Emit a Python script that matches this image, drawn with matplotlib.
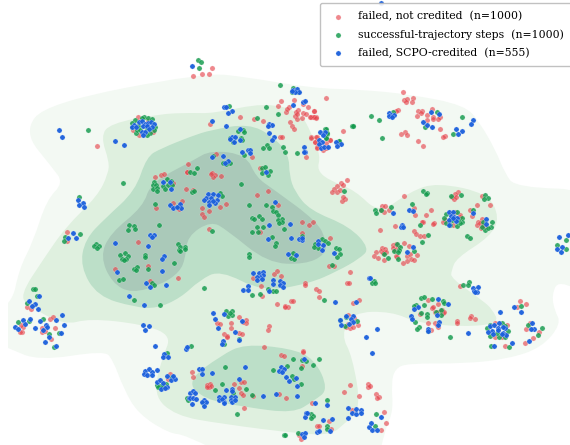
import numpy as np
from matplotlib import pyplot as plt
from matplotlib.path import Path
from matplotlib.patches import PathPatch, Rectangle

failed_not_credited = [
    (403,92),(404,100),(407,99),(406,102),(413,98),(412,102),(398,110),(396,111),(418,111),(422,111),(421,113),(417,116),
    (427,115),(427,120),(433,117),(433,119),(440,117),(438,119),(432,109),(440,129),(445,136),(443,137),(343,131),(326,98),
    (405,132),(401,134),(407,135),(418,141),(423,146),(314,111),(316,117),(313,117),(311,117),(330,140),(315,142),(311,137),
    (317,137),(326,143),(317,147),(97,146),(138,117),(133,130),(139,135),(153,132),(148,121),
    (212,68),(209,74),(202,74),(193,76),(281,101),(278,106),(294,100),(308,107),(314,111),(240,117),(254,119),(263,121),
    (210,124),(290,122),(292,126),(294,129),(286,112),(289,107),(287,109),(298,110),(296,112),(295,116),(297,119),(302,118),
    (303,113),(306,114),(310,117),(314,117),(316,118),(297,114),(303,104),(280,137),(282,137),(252,157),(216,154),(306,157),
    (311,138),(316,137),(315,142),(330,140),(317,148),(323,150),(326,148),(188,164),(187,172),(212,173),(215,175),(213,177),
    (211,174),(221,176),(260,168),
    (155,177),(161,175),(164,174),(173,183),(186,189),(182,201),(173,203),(178,208),(156,208),(67,232),(67,241),(138,242),
    (115,269),(148,266),(178,278),(150,281),(27,307),(31,309),(179,209),(187,172),
    (50,319),(53,317),(42,328),(42,332),(45,331),(55,328),(51,339),(23,327),(21,325),(22,332),(20,332),(170,374),(168,379),(165,388),
    (239,317),(246,320),(246,323),(243,322),(217,323),(220,324),(231,323),(231,328),(224,334),(227,336),(227,337),(239,333),
    (242,334),(269,326),(268,330),(264,347),(281,355),(284,356),(303,351),(303,352),(192,372),(193,377),(207,385),(210,384),
    (209,387),(211,386),(207,387),(234,384),(241,382),(244,382),(239,388),(241,393),(243,395),(253,396),(279,394),(286,398),
    (244,408),(312,403),(302,366),(350,385),(344,392),(359,396),(368,384),(368,387),(370,386),(376,394),(379,397),(377,398),
    (329,421),(317,426),(319,426),(331,429),(299,435),(301,439),(384,412),(386,423),(381,430),(352,410),
    (348,315),(354,318),(358,325),(348,324),(350,328),(353,327),(346,327),
    (347,180),(341,183),(343,185),(337,186),(334,189),(332,192),(337,192),(340,190),(345,199),(342,201),(343,197),(268,191),
    (257,195),(278,205),(193,190),(226,204),(220,207),(209,211),(202,208),(202,214),(204,217),(209,229),(302,222),(309,225),
    (313,222),(260,232),(302,233),(330,238),(329,266),(334,266),(350,272),(277,271),(274,274),(281,276),(253,278),(261,286),
    (305,283),(305,285),(316,289),(319,291),(319,297),(347,283),(349,283),(291,301),(293,301),(277,304),(285,306),(288,307),
    (285,307),(353,303),(359,300),(262,296),
    (404,196),(382,206),(385,206),(381,210),(389,210),(384,212),(414,208),(415,215),(431,210),(426,215),(423,222),(422,222),
    (434,223),(433,224),(395,226),(380,230),(414,231),(416,234),(420,236),(424,236),(404,243),(409,246),(417,255),(407,256),
    (410,254),(411,259),(414,260),(407,261),(403,263),(376,252),(374,256),(378,258),(384,260),(382,248),(385,249),(381,251),
    (384,252),(383,253),(386,252),(393,245),(396,244),(393,248),(395,250),(397,257),(396,256),(398,247),(458,192),(455,194),
    (452,197),(454,199),(456,197),(482,196),(490,205),(477,205),(470,210),(472,216),(460,215),(451,213),(455,212),(445,220),
    (453,225),(460,217),(443,222),(478,222),(482,219),(477,225),(481,228),(485,227),(480,223),(483,225),(460,286),
    (428,300),(438,304),(432,308),(433,307),(435,312),(438,312),(442,310),(443,313),(444,312),(428,323),(435,323),(437,325),
    (438,327),(428,330),(431,330),(457,321),(457,323),(471,316),(470,318),(475,319),(420,314),(520,301),(526,304),(517,307),
    (505,346),(525,343),(533,338),(539,332),(530,323),(526,329),(495,323),(507,325),(505,335),(495,337),(502,337),
]

successful_steps = [
    (371,116),(379,120),(353,126),(352,126),(382,138),(393,112),(437,112),(425,127),(462,117),(453,134),(325,129),(327,134),
    (326,138),(339,141),(88,130),
    (135,120),(144,117),(148,118),(152,119),(132,123),(155,127),(154,130),(150,133),(147,135),(136,133),(132,127),(138,126),
    (142,118),(137,130),(140,130),(147,128),
    (198,60),(201,62),(199,68),(229,106),(280,85),(266,107),(278,114),(257,118),(243,130),(244,132),(238,131),(230,138),
    (241,138),(233,142),(242,140),(213,156),(244,155),(223,163),(230,163),(226,164),(190,172),(197,168),(194,173),(267,145),
    (269,148),(263,148),(283,147),(285,152),(297,153),(326,129),(327,133),(326,138),(339,141),(353,126),(262,168),(265,167),
    (270,171),(262,173),(268,175),(293,88),(298,92),(292,92),
    (123,183),(79,197),(80,234),(65,237),(64,241),(154,182),(153,185),(156,185),(153,189),(157,188),(157,191),(167,179),
    (171,181),(163,186),(168,185),(172,185),(165,189),(155,204),(178,207),(129,225),(134,226),(128,230),(135,229),(159,225),
    (178,244),(180,247),(185,247),(179,250),(185,249),(180,251),(96,244),(94,246),(99,246),(97,248),(120,255),(125,253),
    (128,256),(122,259),(126,259),(124,260),(145,255),(145,257),(174,263),(134,269),(137,267),(136,270),(148,269),(119,280),
    (123,279),(152,283),(154,285),(134,300),(160,305),(33,289),(35,289),(27,303),(37,296),
    (18,322),(29,321),(43,319),(49,334),(59,333),(54,347),(167,353),(157,385),(160,386),(166,384),(162,386),(158,387),(172,377),
    (226,311),(232,311),(228,316),(232,315),(230,313),(239,339),(224,344),(191,346),(225,367),(222,384),(215,390),(246,389),
    (252,395),(187,398),(188,400),(232,397),(233,393),(203,403),(273,370),(287,366),(293,359),(301,368),(313,365),(319,359),
    (302,360),(306,361),(292,376),(294,379),(301,384),(327,400),(311,414),(313,416),(311,418),(237,414),(284,435),(285,435),
    (298,433),(327,426),(327,429),(346,317),(357,321),(345,326),(340,320),(376,414),(375,426),
    (220,193),(222,196),(192,192),(194,191),(241,184),(344,191),(249,205),(266,205),(272,207),(273,211),(276,212),(278,215),
    (259,216),(252,218),(254,219),(262,219),(282,219),(278,220),(282,222),(279,223),(257,227),(263,227),(252,232),(258,232),
    (284,229),(272,237),(302,236),(212,231),(276,243),(275,246),(322,239),(325,241),(328,243),(315,244),(318,248),(314,247),
    (249,254),(249,257),(293,253),(291,258),(294,259),(336,248),(339,249),(340,254),(337,257),(332,265),(204,288),(252,295),
    (260,294),(268,289),(273,291),(276,291),(324,300),
    (423,191),(427,193),(426,194),(451,196),(461,195),(485,195),(488,198),(484,199),(375,210),(376,213),(381,210),(391,207),
    (412,204),(420,225),(428,235),(422,242),(467,236),(470,238),(397,244),(400,247),(399,250),(394,251),(398,252),(414,251),
    (388,258),(398,259),(384,254),(473,210),(446,214),(457,212),(444,218),(462,218),(446,223),(462,222),(450,225),(457,226),
    (460,223),(452,220),(458,220),(483,222),(492,222),(491,227),(485,230),(488,228),(482,227),(566,240),(557,245),(566,249),
    (374,281),(372,283),(375,283),(469,282),(463,285),(468,285),
    (421,298),(424,297),(432,299),(443,301),(444,303),(416,305),(414,306),(424,305),(441,310),(436,312),(441,315),(427,314),
    (427,317),(421,313),(415,322),(419,327),(417,329),(428,331),(450,337),(521,306),(542,328),(538,335),(528,325),(491,346),
    (509,347),(490,325),(502,323),(505,326),(508,331),(505,337),(499,337),(490,336),(487,328),(497,333),
]

failed_scpo = [
    (381,3),(389,113),(391,115),(394,115),(389,116),(392,117),(431,112),(439,114),(423,122),(427,125),(432,127),(456,129),
    (462,131),(458,134),(473,120),(471,124),(320,132),(325,132),(323,135),(319,140),(322,142),(319,144),(321,148),(324,147),
    (328,147),(336,142),(341,144),(337,146),
    (59,130),(62,137),(115,141),(124,145),(139,122),(142,121),(145,124),(148,123),(151,122),(154,124),(134,125),(132,127),
    (136,127),(143,126),(147,126),(152,127),(149,129),(142,132),(145,132),(143,135),
    (192,66),(224,107),(226,107),(232,111),(228,113),(212,121),(226,126),(240,129),(232,137),(235,137),(230,139),(240,140),
    (234,142),(242,152),(248,150),(250,150),(250,153),(223,156),(212,157),(228,161),(225,163),(269,124),(272,125),(268,126),
    (269,133),(274,137),(272,140),(304,147),(305,152),(304,152),(293,105),(303,102),(305,101),(293,90),(297,89),(299,92),
    (295,92),(292,91),(266,172),
    (78,200),(83,203),(79,205),(84,207),(73,233),(68,238),(76,238),(163,182),(170,182),(171,189),(170,205),(173,208),(180,204),
    (181,208),(177,207),(115,243),(150,235),(154,235),(152,237),(148,246),(164,256),(162,259),(117,272),(162,271),(146,283),
    (150,287),(166,285),(129,296),(144,305),(29,301),(35,304),(39,296),(32,306),(38,309),
    (23,320),(30,319),(25,324),(15,327),(18,329),(40,321),(56,320),(62,315),(64,325),(35,328),(46,325),(47,327),(43,330),(49,337),
    (61,333),(45,342),(56,346),(143,325),(149,326),(145,330),(155,346),(164,354),(163,357),(168,357),(186,349),(187,347),
    (157,370),(145,371),(149,369),(152,372),(144,374),(147,375),(152,375),(167,376),(171,380),(175,379),(173,376),(157,382),
    (160,380),(163,383),(167,387),(161,389),(165,388),(190,393),(189,398),
    (213,313),(224,314),(215,319),(218,328),(242,321),(235,332),(239,340),(223,341),(222,344),(199,369),(202,369),(202,374),
    (212,373),(245,367),(193,391),(195,393),(190,398),(193,398),(196,399),(192,404),(204,400),(206,402),(202,402),(204,406),
    (219,397),(224,397),(219,400),(224,402),(222,399),(224,403),(226,390),(232,389),(232,391),(231,397),(235,397),(231,400),
    (232,402),(235,400),(239,379),(263,396),(276,394),(297,396),(281,367),(279,371),(284,369),(282,372),(286,377),(296,378),
    (289,381),(297,386),(304,359),(315,403),(327,405),(306,413),(305,417),(307,413),(323,420),(332,419),(348,418),(302,434),
    (305,433),(304,437),(317,432),(319,431),(330,431),(348,408),(352,413),(356,414),(356,409),(361,410),(361,413),(369,427),
    (371,423),(372,430),(377,430),(381,417),(366,337),(372,353),(377,329),(346,316),(353,316),(340,320),(351,319),(353,322),
    (341,325),(349,324),
    (208,194),(213,194),(218,195),(206,198),(211,198),(217,200),(204,200),(209,202),(215,203),(209,205),(213,201),(275,202),
    (269,225),(290,224),(268,239),(291,238),(299,239),(302,240),(302,238),(318,241),(323,245),(318,244),(322,250),(334,253),
    (288,254),(296,255),(253,273),(259,273),(263,272),(263,275),(260,277),(257,277),(257,280),(262,279),(273,280),(273,284),
    (280,281),(283,283),(280,285),(283,287),(248,286),(243,290),(248,290),(269,291),(335,302),(356,302),(369,278),
    (393,213),(409,210),(413,211),(402,225),(401,227),(403,227),(473,213),(407,252),(413,247),(449,212),(453,212),(451,216),
    (454,217),(457,218),(449,220),(456,221),(449,225),(453,218),(486,219),(486,224),(559,237),(568,235),(562,247),(557,249),
    (561,252),(370,278),(473,288),(478,287),(474,291),(477,292),(475,292),
    (418,307),(414,309),(438,299),(448,304),(437,315),(411,316),(412,319),(439,322),(438,325),(428,329),(428,331),(468,333),
    (514,307),(521,312),(500,312),(494,346),(512,343),(529,341),(532,323),(534,329),(531,329),(490,326),(494,325),(499,323),
    (505,328),(498,328),(503,327),(492,331),(488,332),(493,334),(498,330),(503,333),(506,335),(502,334),
]

# density contour outlines, lowest level first
level_1 = [(190,77),(250,78),(310,87),(360,90),(410,95),(460,106),(480,124),(495,150),(505,172),(525,186),(590,203),(590,282),
           (562,284),(553,295),(555,310),(558,325),(540,346),(507,358),(463,363),(413,364),(396,370),(392,385),(392,410),(385,432),
           (360,465),(250,460),(190,438),(167,431),(140,413),(124,388),(113,362),(97,353),(43,358),(8,348),(-20,335),(-20,320),
           (8,303),(20,270),(33,240),(47,203),(60,183),(50,165),(30,133),(63,103)]
level_2 = [(190,113),(157,115),(115,124),(103,138),(108,160),(107,175),(95,197),(67,227),(43,260),(24,292),(32,307),(63,322),
           (93,320),(140,325),(167,337),(162,360),(157,393),(178,414),(225,424),(297,433),(330,433),(345,423),(358,404),(352,360),
           (344,335),(356,315),(390,313),(420,322),(463,326),(494,322),(492,310),(480,299),(455,280),(452,270),(460,257),(487,237),
           (497,217),(483,195),(440,185),(410,193),(380,208),(355,192),(332,181),(319,170),(319,155),(311,133),(297,113),(263,105),(217,112)]
level_3a = [(133,190),(147,160),(163,148),(190,137),(213,130),(247,126),(272,137),(287,155),(290,175),(296,192),(313,210),
            (347,227),(366,247),(358,259),(337,271),(307,283),(263,288),(223,274),(200,281),(180,297),(157,307),(133,306),(100,294),
            (83,267),(87,240),(107,217)]
level_3b = [(193,380),(220,357),(247,346),(287,349),(313,361),(325,387),(313,401),(290,411),(247,407),(207,398)]
level_4 = [(103,257),(113,233),(140,207),(155,183),(190,162),(213,152),(243,157),(257,176),(277,192),(313,220),(325,240),
           (323,254),(303,263),(267,259),(230,233),(210,224),(190,237),(185,257),(178,272),(160,284),(133,291),(113,281)]

level_colors = ['#f3f9f3', '#dff0df', '#bcdfc8', '#aac9b9']
point_labels = ['failed, not credited  (n=1000)', 'successful-trajectory steps  (n=1000)', 'failed, SCPO-credited  (n=555)']


def smooth_patch(pts, color):
    # closed quadratic spline through the outline points
    pts = np.array(pts, dtype=float)
    n = len(pts)
    weights = np.zeros((n, n))
    for i in range(n):
        weights[i, (i - 1) % n] += 1 / 8
        weights[i, i] += 6 / 8
        weights[i, (i + 1) % n] += 1 / 8
    ctrl = np.linalg.solve(weights, pts)
    mids = (ctrl + np.roll(ctrl, -1, axis=0)) / 2
    verts = [mids[-1]]
    codes = [Path.MOVETO]
    for p, m in zip(ctrl, mids):
        verts += [p, m]
        codes += [Path.CURVE3, Path.CURVE3]
    return PathPatch(Path(verts, codes), facecolor=color, edgecolor='none')


fig = plt.figure(figsize=(5.7, 4.45), dpi=100)
ax = fig.add_axes([0, 0, 1, 1])
ax.set_xlim(0, 570)
ax.set_ylim(445, 0)
ax.axis('off')

clip = Rectangle((8, 0), 562, 445, transform=ax.transData)
for outline, color in [(level_1, level_colors[0]), (level_2, level_colors[1]), (level_3a, level_colors[2]),
                       (level_3b, level_colors[2]), (level_4, level_colors[3])]:
    patch = ax.add_patch(smooth_patch(outline, color))
    patch.set_clip_path(clip)

series = [(failed_not_credited, '#e63f47', 0.62), (successful_steps, '#129a4c', 0.82), (failed_scpo, '#1a5fdc', 0.95)]
for (pts, color, alpha), label in zip(series, point_labels):
    pts = np.array(pts)
    ax.scatter(pts[:, 0], pts[:, 1], s=14, color=color, alpha=alpha, edgecolors='white', linewidths=0.2,
               label=label, zorder=3)

ax.legend(loc='upper left', bbox_to_anchor=(320 / 570, 1 - 3 / 445), borderaxespad=0, frameon=True, framealpha=0.9,
          edgecolor='#bbbbbb', prop={'family': 'DejaVu Serif', 'size': 7.8}, scatterpoints=1, labelspacing=0.73,
          handletextpad=0.85, borderpad=0.75, handlelength=1.9).set_zorder(5)

plt.savefig('out.png', dpi=100)
plt.close()
